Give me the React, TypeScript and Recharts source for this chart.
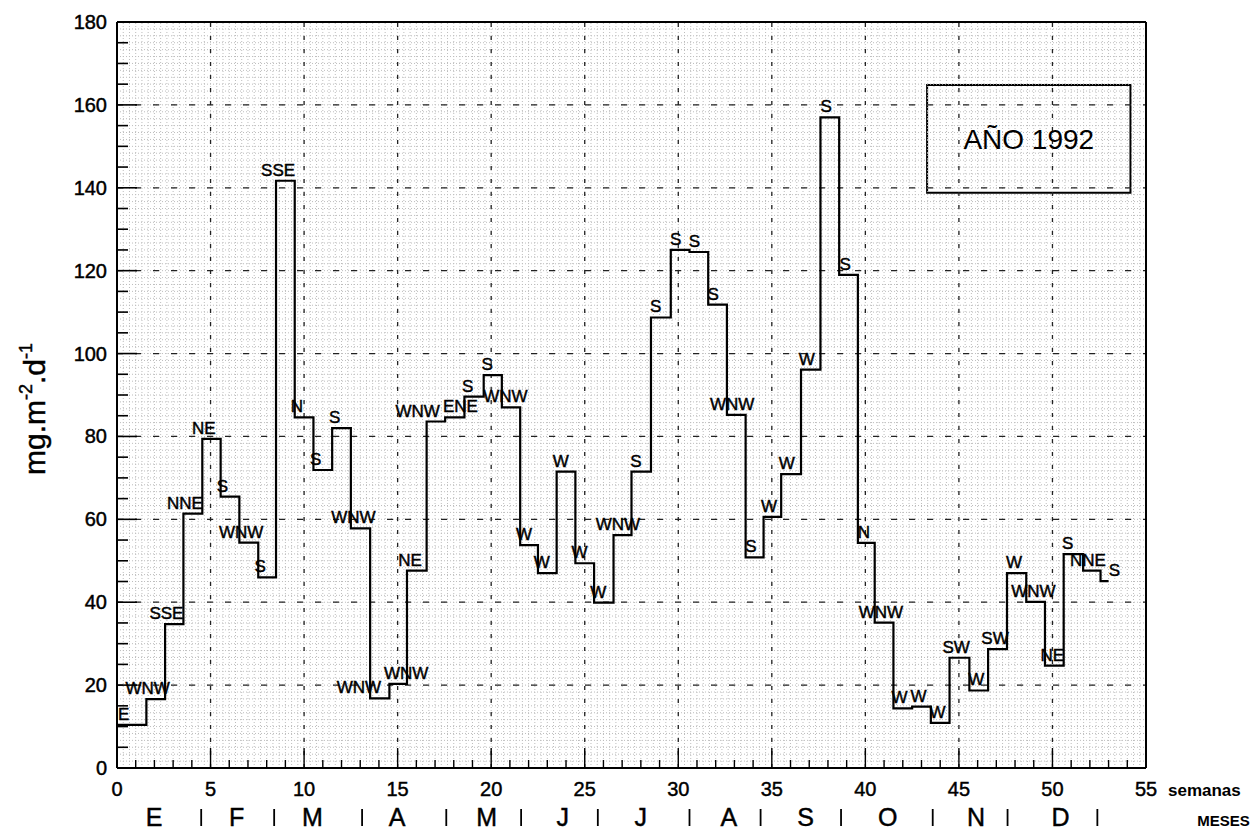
import React from 'react';
import { ComposedChart, Line, XAxis, YAxis, ReferenceLine, ReferenceArea } from 'recharts';

// ---- data ----
const weekStarts = [0, 1.57, 2.57, 3.55, 4.56, 5.54, 6.54, 7.55, 8.5, 9.5, 10.5, 11.5, 12.5, 13.53, 14.56, 15.5, 16.55, 17.54, 18.57, 19.6, 20.57, 21.55, 22.5, 23.5, 24.5, 25.5, 26.54, 27.5, 28.54, 29.6, 30.6, 31.6, 32.6, 33.6, 34.56, 35.5, 36.56, 37.6, 38.6, 39.6, 40.5, 41.5, 42.5, 43.5, 44.5, 45.56, 46.56, 47.57, 48.6, 49.6, 50.6, 51.64, 52.57];
const lastWeekEnd = 53.0;
const flux = [10.4, 16.6, 34.7, 61.4, 79.4, 65.5, 54.4, 46, 141.7, 84.6, 71.9, 82, 57.8, 16.8, 20.3, 47.6, 83.6, 84.6, 89.6, 94.8, 87, 53.8, 47, 71.5, 49.4, 39.9, 56.2, 71.5, 108.7, 125, 124.5, 111.8, 85.2, 50.8, 60.6, 70.9, 96.1, 157, 119, 54.3, 35.1, 14.4, 14.8, 10.9, 26.6, 18.7, 28.7, 47, 40.1, 24.7, 51.6, 47.6, 45.1];
const windDir = ['E', 'WNW', 'SSE', 'NNE', 'NE', 'S', 'WNW', 'S', 'SSE', 'N', 'S', 'S', 'WNW', 'WNW', 'WNW', 'NE', 'WNW', 'ENE', 'S', 'S', 'WNW', 'W', 'W', 'W', 'W', 'W', 'WNW', 'S', 'S', 'S', 'S', 'S', 'WNW', 'S', 'W', 'W', 'W', 'S', 'S', 'N', 'WNW', 'W', 'W', 'W', 'SW', 'W', 'SW', 'W', 'WNW', 'NE', 'S', 'NNE', 'S'];

const monthNames = ['E', 'F', 'M', 'A', 'M', 'J', 'J', 'A', 'S', 'O', 'N', 'D'];
const monthCenters = [1.98, 6.4, 10.45, 14.97, 19.76, 23.82, 28.0, 32.7, 36.8, 41.2, 45.92, 50.43];
const monthSeparators = [4.5, 8.4, 13.1, 17.6, 21.6, 25.7, 30.6, 34.4, 38.7, 43.6, 47.6, 52.4];

const xTicks = Array.from({ length: 56 }, (_, i) => i);
const yTicks = Array.from({ length: 37 }, (_, i) => i * 5);
const majorX = [5, 10, 15, 20, 25, 30, 35, 40, 45, 50];
const majorY = [20, 40, 60, 80, 100, 120, 140, 160];
const fineX = Array.from({ length: 164 }, (_, i) => (i + 1) / 3);
const fineY = Array.from({ length: 107 }, (_, i) => ((i + 1) * 5) / 3);

const chartData = [
  ...weekStarts.map((w, i) => ({ week: w, flux: flux[i], dir: windDir[i] })),
  { week: lastWeekEnd, flux: flux[flux.length - 1], dir: '' },
];

// ---- layout ----
const W = 1251;
const H = 834;
const PL = 117;
const PR = 1146;
const PT = 22;
const PB = 768;
const PW = PR - PL;
const PH = PB - PT;
const PXW = PW / 55;
const PXU = PH / 180;
const FONT = "'Liberation Sans', Arial, Helvetica, sans-serif";
const LABEL_FS = 17;
const charW: Record<string, number> = { W: 0.944, N: 0.722, E: 0.667, S: 0.667 };
const inkStroke = { stroke: '#000', strokeWidth: 0.45 };

const labelDx = (() => {
  const items = windDir.map((d, i) => {
    const px = PL + weekStarts[i] * PXW;
    const py = PB - flux[i] * PXU;
    const w = d.split('').reduce((s, c) => s + (charW[c] || 0.7), 0) * LABEL_FS;
    let cx = px + 1 + (7 * (px - PL)) / PW;
    cx = Math.max(cx, PL + w / 2 + 1);
    return { cx, cy: py - 11, w, px };
  });
  for (let i = 1; i < items.length; i++) {
    const a = items[i - 1];
    const b = items[i];
    if (Math.abs(a.cy - b.cy) < 17) {
      const need = (a.w + b.w) / 2 + 3;
      const gap = b.cx - a.cx;
      if (gap < need) {
        const d = (need - gap) / 2;
        a.cx -= d;
        b.cx += d;
      }
    }
  }
  return items.map((it) => it.cx - it.px);
})();

const renderDirLabel = (props: any) => {
  const { x, y, index } = props;
  const d = chartData[index] ? chartData[index].dir : '';
  if (!d) return <g key={`l${index}`} />;
  return (
    <text key={`l${index}`} x={x + labelDx[index]} y={y - 5} textAnchor="middle" fontSize={LABEL_FS} fontFamily={FONT} fill="#000" {...inkStroke}>
      {d}
    </text>
  );
};

const YTick = (props: any) => {
  const { x, y, payload } = props;
  const v = payload.value;
  const major = v % 20 === 0;
  return (
    <g>
      {v > 0 && v < 180 && <line x1={x} x2={x + (major ? 20 : 11)} y1={y} y2={y} stroke="#000" strokeWidth={1.6} />}
      {major && (
        <text x={x - 10} y={y + 7} textAnchor="end" fontSize={20} fontFamily={FONT} fill="#000" {...inkStroke}>
          {v}
        </text>
      )}
    </g>
  );
};

const XTick = (props: any) => {
  const { x, y, payload } = props;
  const v = payload.value;
  const major = v % 5 === 0;
  return (
    <g>
      {v > 0 && v < 55 && <line x1={x} x2={x} y1={y} y2={y - (major ? 20 : 8)} stroke="#000" strokeWidth={1.4} />}
      {major && (
        <text x={x} y={y + 28} textAnchor="middle" fontSize={20} fontFamily={FONT} fill="#000" {...inkStroke}>
          {v}
        </text>
      )}
      {v === 55 && (
        <text x={x + 22} y={y + 28} fontSize={17} fontWeight="bold" fontFamily={FONT} fill="#000">
          semanas
        </text>
      )}
    </g>
  );
};

const MonthTick = (props: any) => {
  const { x, y, payload } = props;
  const v = payload.value;
  const mi = monthCenters.indexOf(v);
  if (mi >= 0) {
    return (
      <text x={x} y={y + 22} textAnchor="middle" fontSize={25} fontFamily={FONT} fill="#000" {...inkStroke}>
        {monthNames[mi]}
      </text>
    );
  }
  const si = monthSeparators.indexOf(v);
  return (
    <g>
      <line x1={x} x2={x} y1={y + 5} y2={y + 22} stroke="#000" strokeWidth={1.8} />
      {si === monthSeparators.length - 1 && (
        <text x={x + 100} y={y + 22} fontSize={15} fontWeight="bold" fontFamily={FONT} fill="#000">
          MESES
        </text>
      )}
    </g>
  );
};

const renderYLabel = () => (
  <text transform="translate(45,409) rotate(-90)" textAnchor="middle" fontSize={30} fontFamily={FONT} fill="#000" {...inkStroke}>
    mg.m
    <tspan fontSize={18} dy={-13}>-2</tspan>
    <tspan fontSize={30} dy={13}>.d</tspan>
    <tspan fontSize={18} dy={-13}>-1</tspan>
  </text>
);

export default function App() {
  return (
    <div style={{ position: 'absolute', left: 0, top: 0, width: W, height: H, background: '#fff' }}>
      <ComposedChart width={W} height={H} data={chartData} margin={{ top: PT, right: W - PR, bottom: 0, left: PL - 60 }}>
        <XAxis
          dataKey="week"
          type="number"
          domain={[0, 55]}
          ticks={xTicks}
          interval={0}
          height={36}
          tickSize={0}
          tickMargin={0}
          tickLine={false}
          axisLine={{ stroke: '#000', strokeWidth: 2 }}
          tick={<XTick />}
          allowDataOverflow
        />
        <XAxis
          xAxisId="m"
          dataKey="week"
          type="number"
          domain={[0, 55]}
          ticks={[...monthCenters, ...monthSeparators]}
          interval={0}
          height={30}
          tickSize={0}
          tickMargin={0}
          tickLine={false}
          axisLine={false}
          tick={<MonthTick />}
          allowDataOverflow
        />
        <YAxis
          type="number"
          domain={[0, 180]}
          ticks={yTicks}
          interval={0}
          width={60}
          tickSize={0}
          tickMargin={0}
          tickLine={false}
          axisLine={{ stroke: '#000', strokeWidth: 2 }}
          tick={<YTick />}
          label={renderYLabel}
          allowDataOverflow
        />
        {fineX.map((v) => (
          <ReferenceLine key={`fx${v}`} x={v} stroke="#bdbdbd" strokeWidth={1} strokeDasharray="1 2" />
        ))}
        {fineY.map((v) => (
          <ReferenceLine key={`fy${v}`} y={v} stroke="#bdbdbd" strokeWidth={1} strokeDasharray="1 2" />
        ))}
        {majorX.map((v) => (
          <ReferenceLine key={`mx${v}`} x={v} stroke="#222" strokeWidth={1.3} strokeDasharray="4 9" />
        ))}
        {majorY.map((v) => (
          <ReferenceLine key={`my${v}`} y={v} stroke="#222" strokeWidth={1.3} strokeDasharray="6 12" />
        ))}
        <ReferenceLine x={55} stroke="#000" strokeWidth={2} />
        <ReferenceLine y={180} stroke="#000" strokeWidth={2} />
        <ReferenceArea
          x1={43.3}
          x2={54.17}
          y1={138.8}
          y2={164.8}
          fill="#fff"
          fillOpacity={1}
          stroke="#000"
          strokeWidth={2}
          label={{ value: 'AÑO 1992', position: 'center', fontSize: 28, fill: '#000', fontFamily: FONT }}
        />
        <Line
          type="stepAfter"
          dataKey="flux"
          stroke="#000"
          strokeWidth={2.2}
          dot={false}
          isAnimationActive={false}
          label={renderDirLabel}
        />
      </ComposedChart>
    </div>
  );
}
